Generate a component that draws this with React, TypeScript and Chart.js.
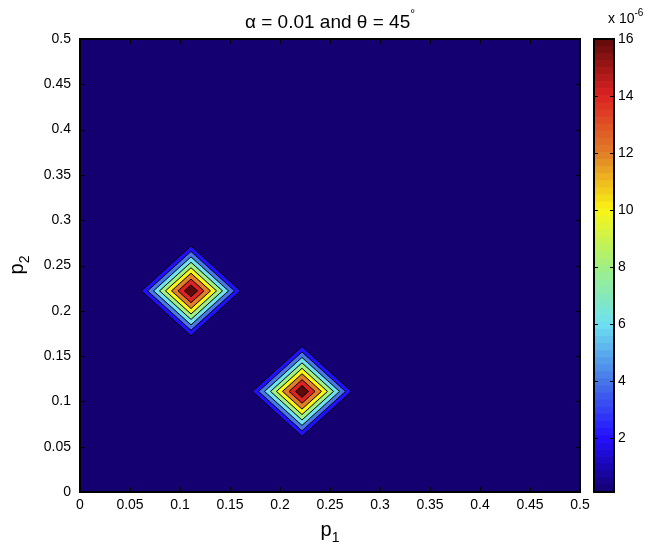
import React, { useEffect, useRef } from "react";
import { Chart, registerables } from "chart.js";
Chart.register(...registerables);

// ---- data ----
const xTicks = [0, 0.05, 0.1, 0.15, 0.2, 0.25, 0.3, 0.35, 0.4, 0.45, 0.5];
const yTicks = [0, 0.05, 0.1, 0.15, 0.2, 0.25, 0.3, 0.35, 0.4, 0.45, 0.5];
const peakCentersX = [0.111, 0.222];
const peakCentersY = [0.222, 0.111];
// contour levels (x 1e-6) and the L1 half-width of each level's diamond
const contourLevels = [2, 4, 6, 8, 10, 12, 14, 16];
const contourRadii = [0.0495, 0.0435, 0.0375, 0.0315, 0.0255, 0.0195, 0.013, 0.0065];
const colorbarTicks = [2, 4, 6, 8, 10, 12, 14, 16];
const colorMin = 0.1;
const colorMax = 16;
const colorSteps = 64;

// ---- style: colormap anchors (jet-like, as seen in the picture) ----
const cmapStops: [number, number[]][] = [
  [0.1, [20, 0, 112]],
  [2, [35, 15, 255]],
  [4, [70, 120, 232]],
  [6, [110, 225, 240]],
  [8, [160, 240, 130]],
  [10, [250, 245, 20]],
  [12, [225, 125, 40]],
  [14, [220, 35, 35]],
  [16, [95, 10, 10]],
];

function colorAt(v: number): string {
  if (v <= cmapStops[0][0]) return rgb(cmapStops[0][1]);
  for (let i = 1; i < cmapStops.length; i++) {
    const [v1, c1] = cmapStops[i];
    const [v0, c0] = cmapStops[i - 1];
    if (v <= v1) {
      const t = (v - v0) / (v1 - v0);
      return rgb(c0.map((c, j) => c + (c1[j] - c) * t));
    }
  }
  return rgb(cmapStops[cmapStops.length - 1][1]);
}
function rgb(c: number[]) {
  return `rgb(${Math.round(c[0])},${Math.round(c[1])},${Math.round(c[2])})`;
}

const FONT = "'Liberation Sans', Arial, Helvetica, sans-serif";

const mainBoxPlugin = {
  id: "mainBox",
  afterDatasetsDraw(chart: any) {
    const { ctx, chartArea: a, scales } = chart;
    const L = 5;
    ctx.save();
    ctx.strokeStyle = "#000";
    ctx.lineWidth = 1;
    ctx.beginPath();
    for (const t of scales.x.ticks) {
      const px = Math.round(scales.x.getPixelForValue(t.value)) + 0.5;
      ctx.moveTo(px, a.bottom);
      ctx.lineTo(px, a.bottom - L);
      ctx.moveTo(px, a.top);
      ctx.lineTo(px, a.top + L);
    }
    for (const t of scales.y.ticks) {
      const py = Math.round(scales.y.getPixelForValue(t.value)) + 0.5;
      ctx.moveTo(a.left, py);
      ctx.lineTo(a.left + L, py);
      ctx.moveTo(a.right, py);
      ctx.lineTo(a.right - L, py);
    }
    ctx.stroke();
    ctx.lineWidth = 2;
    ctx.strokeRect(a.left, a.top, a.right - a.left, a.bottom - a.top);
    ctx.restore();
  },
};

const cbBoxPlugin = {
  id: "cbBox",
  afterDatasetsDraw(chart: any) {
    const { ctx, chartArea: a, scales } = chart;
    const L = 4;
    ctx.save();
    ctx.strokeStyle = "#000";
    ctx.lineWidth = 1;
    ctx.beginPath();
    for (const t of scales.y.ticks) {
      const py = Math.round(scales.y.getPixelForValue(t.value)) + 0.5;
      ctx.moveTo(a.left, py);
      ctx.lineTo(a.left + L, py);
      ctx.moveTo(a.right, py);
      ctx.lineTo(a.right - L, py);
    }
    ctx.stroke();
    ctx.lineWidth = 2;
    ctx.strokeRect(a.left, a.top, a.right - a.left, a.bottom - a.top);
    ctx.restore();
  },
};

export default function App() {
  const mainRef = useRef<HTMLCanvasElement>(null);
  const cbRef = useRef<HTMLCanvasElement>(null);

  useEffect(() => {
    const datasets: any[] = [];
    datasets.push({
      type: "line",
      data: [
        { x: xTicks[0], y: yTicks[0] },
        { x: xTicks[xTicks.length - 1], y: yTicks[0] },
        { x: xTicks[xTicks.length - 1], y: yTicks[yTicks.length - 1] },
        { x: xTicks[0], y: yTicks[yTicks.length - 1] },
        { x: xTicks[0], y: yTicks[0] },
      ],
      fill: "shape",
      backgroundColor: colorAt(colorMin),
      borderWidth: 0,
      pointRadius: 0,
      order: 100,
    });
    peakCentersX.forEach((cx, p) => {
      const cy = peakCentersY[p];
      contourLevels.forEach((lvl, k) => {
        const r = contourRadii[k];
        datasets.push({
          type: "line",
          data: [
            { x: cx - r, y: cy },
            { x: cx, y: cy + r },
            { x: cx + r, y: cy },
            { x: cx, y: cy - r },
            { x: cx - r, y: cy },
          ],
          fill: "shape",
          backgroundColor: colorAt(lvl),
          borderColor: "#000",
          borderWidth: 1,
          pointRadius: 0,
          tension: 0,
          order: 50 - k,
        });
      });
    });

    const main = new Chart(mainRef.current!, {
      type: "scatter",
      data: { datasets },
      plugins: [mainBoxPlugin],
      options: {
        animation: false,
        responsive: false,
        events: [],
        layout: { padding: { left: 0, right: 40, top: 39, bottom: 0 } },
        plugins: { legend: { display: false }, tooltip: { enabled: false } },
        scales: {
          x: {
            type: "linear",
            min: 0,
            max: 0.5,
            afterBuildTicks: (s: any) => {
              s.ticks = xTicks.map((v) => ({ value: v }));
            },
            afterFit: (s: any) => {
              s.height = 58;
            },
            ticks: {
              callback: (v: any) => String(v),
              font: { family: FONT, size: 14 },
              color: "#000",
              padding: 5,
              maxRotation: 0,
              autoSkip: false,
            },
            grid: { display: false, drawTicks: false },
            border: { display: false },
          },
          y: {
            type: "linear",
            min: 0,
            max: 0.5,
            afterBuildTicks: (s: any) => {
              s.ticks = yTicks.map((v) => ({ value: v }));
            },
            afterFit: (s: any) => {
              s.width = 80;
            },
            ticks: {
              callback: (v: any) => String(v),
              font: { family: FONT, size: 14 },
              color: "#000",
              padding: 9,
              autoSkip: false,
            },
            grid: { display: false, drawTicks: false },
            border: { display: false },
          },
        },
      } as any,
    });

    const cbSets: any[] = [];
    const step = (colorMax - colorMin) / colorSteps;
    for (let i = 0; i < colorSteps; i++) {
      const lo = colorMin + i * step;
      const hi = lo + step;
      cbSets.push({
        data: [[lo, hi]],
        backgroundColor: colorAt(lo + step / 2),
        borderWidth: 0,
        grouped: false,
        barPercentage: 1,
        categoryPercentage: 1,
      });
    }
    const cb = new Chart(cbRef.current!, {
      type: "bar",
      data: { labels: ["cb"], datasets: cbSets },
      plugins: [cbBoxPlugin],
      options: {
        animation: false,
        responsive: false,
        events: [],
        layout: { padding: { left: 4, right: 0, top: 39, bottom: 58 } },
        plugins: { legend: { display: false }, tooltip: { enabled: false } },
        scales: {
          x: { display: false },
          y: {
            position: "right",
            min: colorMin,
            max: colorMax,
            afterBuildTicks: (s: any) => {
              s.ticks = colorbarTicks.map((v) => ({ value: v }));
            },
            afterFit: (s: any) => {
              s.width = 33;
            },
            ticks: {
              callback: (v: any) => String(v),
              font: { family: FONT, size: 14 },
              color: "#000",
              padding: 4,
              autoSkip: false,
            },
            grid: { display: false, drawTicks: false },
            border: { display: false },
          },
        },
      } as any,
    });

    return () => {
      main.destroy();
      cb.destroy();
    };
  }, []);

  return (
    <div
      style={{
        position: "fixed",
        left: 0,
        top: 0,
        width: 647,
        height: 550,
        background: "#fff",
        fontFamily: FONT,
        color: "#000",
      }}
    >
      <canvas
        ref={mainRef}
        width={620}
        height={550}
        style={{ position: "absolute", left: 0, top: 0, width: 620, height: 550 }}
      />
      <canvas
        ref={cbRef}
        width={57}
        height={550}
        style={{ position: "absolute", left: 590, top: 0, width: 57, height: 550 }}
      />
      <div
        style={{
          position: "absolute",
          left: 80,
          width: 500,
          top: 11,
          textAlign: "center",
          fontSize: 19,
          lineHeight: "22px",
          whiteSpace: "nowrap",
        }}
      >
        α = 0.01 and θ = 45
        <span style={{ fontSize: 12, position: "relative", top: -10 }}>°</span>
      </div>
      <div
        style={{
          position: "absolute",
          left: 80,
          width: 500,
          top: 517,
          textAlign: "center",
          fontSize: 20,
          lineHeight: "24px",
          whiteSpace: "nowrap",
        }}
      >
        p<span style={{ fontSize: 14, position: "relative", top: 6 }}>1</span>
      </div>
      <div
        style={{
          position: "absolute",
          left: 16 - 250,
          top: 265 - 12,
          width: 500,
          height: 24,
          textAlign: "center",
          fontSize: 20,
          lineHeight: "24px",
          whiteSpace: "nowrap",
          transform: "rotate(-90deg)",
          transformOrigin: "250px 12px",
        }}
      >
        p<span style={{ fontSize: 14, position: "relative", top: 6 }}>2</span>
      </div>
      <div
        style={{
          position: "absolute",
          left: 608,
          top: 10,
          fontSize: 14,
          lineHeight: "16px",
          whiteSpace: "nowrap",
        }}
      >
        x 10<span style={{ fontSize: 10, position: "relative", top: -7 }}>-6</span>
      </div>
    </div>
  );
}
